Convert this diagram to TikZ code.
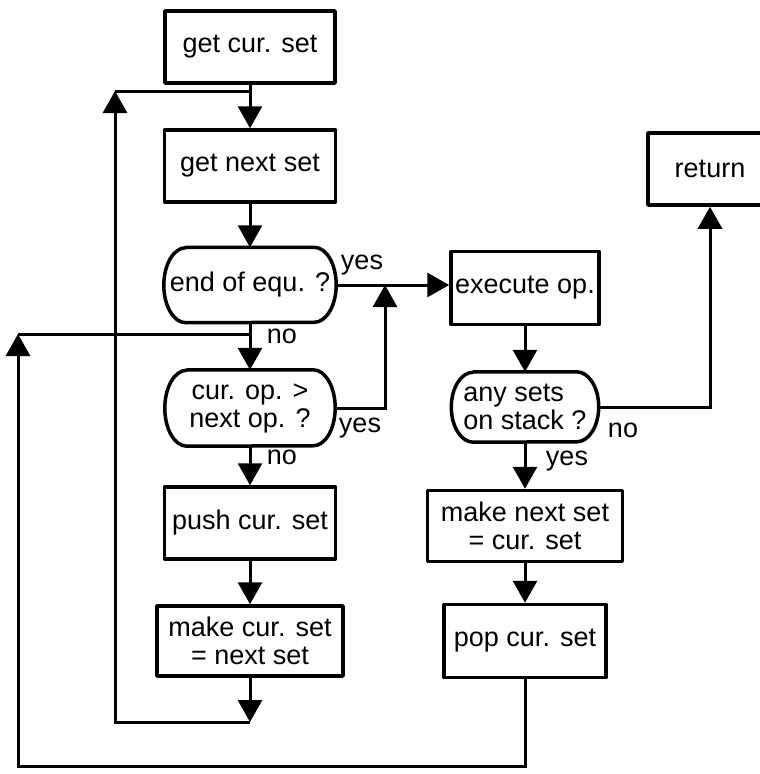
\documentclass[tikz,border=0pt]{standalone}
\usepackage{fontspec}
\setmainfont{Liberation Sans}
\usetikzlibrary{arrows.meta}

% capsule outline with elliptical ends around a (borderless) node
\newcommand\capsule[2]{%
  \draw[boxline] ([xshift=22pt]#1.north west) -- ([xshift=-22pt]#1.north east)
    arc[start angle=90,end angle=-90,x radius=22pt,y radius=#2]
    -- ([xshift=22pt]#1.south west)
    arc[start angle=270,end angle=90,x radius=22pt,y radius=#2] -- cycle;}

\begin{document}
\begin{tikzpicture}[x=1pt,y=-1pt,
  every node/.style={font=\fontsize{27}{28}\selectfont, inner sep=0pt},
  boxline/.style={line width=3.5pt, line join=round},
  stepbox/.style={draw, boxline, minimum height=72pt, align=center},
  decision/.style={minimum height=72pt, align=center},
  conn/.style={line width=3pt},
  flow/.style={conn, -{Triangle[length=22pt,width=24pt]}}]

\useasboundingbox (0,0) rectangle (760,774);
\clip (0,0) rectangle (760,774);

% left column
\node[stepbox, minimum width=170pt] (getcur)  at (250,47)  {get cur. set};
\node[stepbox, minimum width=171pt] (getnext) at (250,166) {get next set};
\node[decision, minimum width=172pt, minimum height=75pt] (endequ) at (250,285) {end of equ. ?};
\node[decision, minimum width=170pt, minimum height=76pt] (curop) at (250,408) {cur. op. >\\next op. ?};
\node[stepbox, minimum width=171pt] (push) at (250,523) {push cur. set};
\node[stepbox, minimum width=186pt, minimum height=70pt] (make) at (250,641) {make cur. set\\= next set};

% right column
\node[stepbox, minimum width=148pt, minimum height=73pt] (exec) at (525,288) {execute op.};
\node[decision, minimum width=147pt, minimum height=70pt, align=left] (anysets) at (525,407) {any sets\\on stack ?};
\node[stepbox, minimum width=195pt, minimum height=71pt] (makenext) at (525,526) {make next set\\= cur. set};
\node[stepbox, minimum width=162pt, minimum height=73pt] (pop) at (525,641) {pop cur. set};
\node[stepbox, minimum width=124pt] (return) at (710,169) {return};

\capsule{endequ}{37.5pt}
\capsule{curop}{38pt}
\capsule{anysets}{35pt}

% branch labels
\node (yesA) at (362,265) {yes};
\node (yesB) at (360,428) {yes};
\node (noA)  at (282,336) {no};
\node (noB)  at (282,457) {no};
\node (noC)  at (623,430) {no};
\node (yesC) at (567,461) {yes};

% helper points of the connector routes
\coordinate (topjoin)  at (250,91);
\coordinate (topturn)  at (115,91);
\coordinate (loopend)  at (250,722);
\coordinate (loopturn) at (115,722);
\coordinate (nojoin)   at (250,334);
\coordinate (noturn)   at (18,334);
\coordinate (popturn)  at (18,766);
\coordinate (yesjoin)  at (385,285);

% main sequence
\draw[flow] (getcur.south) -- (getnext.north);
\draw[flow] (getnext.south) -- (endequ.north);
\draw[flow] (endequ.south) -- (curop.north);
\draw[flow] (curop.south) -- (push.north);
\draw[flow] (push.south) -- (make.north);
\draw[flow] (make.south) -- (loopend);
\draw[flow] (loopend) -- (loopturn) -- (topturn);
\draw[conn] (topturn) -- (topjoin);

% yes branches into execute op.
\draw[flow] (endequ.east) -- (endequ.east -| exec.west);
\draw[flow] (curop.east) -- (curop.east -| yesjoin) -- (yesjoin);

% right column sequence
\draw[flow] (exec.south) -- (anysets.north);
\draw[flow] (anysets.south) -- (makenext.north);
\draw[flow] (makenext.south) -- (pop.north);
\draw[flow] (anysets.east) -- (anysets.east -| return.south) -- (return.south);

% return loop from pop cur. set
\draw[flow] (pop.south) -- (pop.south |- popturn) -- (popturn) -- (noturn);
\draw[conn] (noturn) -- (nojoin);
\end{tikzpicture}
\end{document}
